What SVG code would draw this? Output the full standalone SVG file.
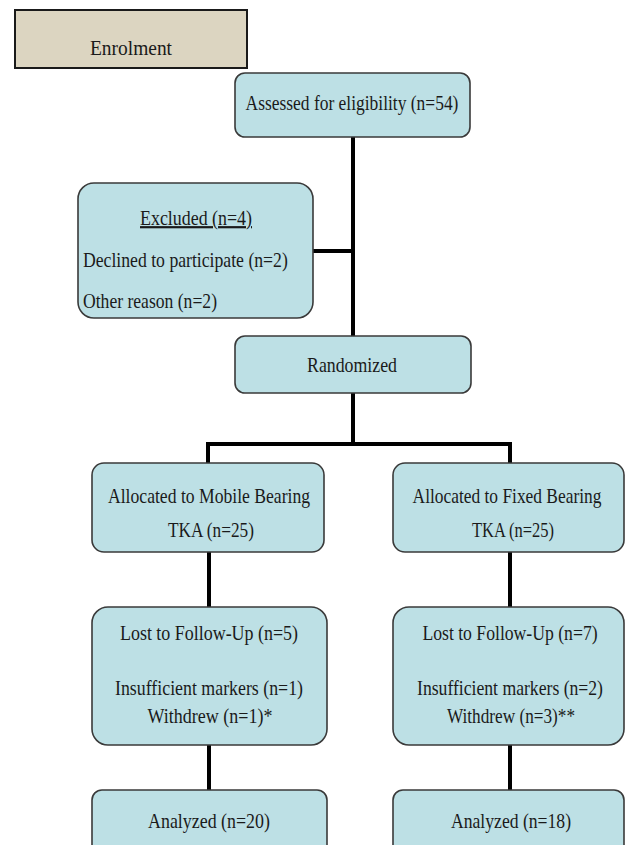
<svg xmlns="http://www.w3.org/2000/svg" width="627" height="845" viewBox="0 0 627 845">
<style>
.box{fill:#bde0e5;stroke:#3a3a3a;stroke-width:1.6}
.enr{fill:#dcd5c1;stroke:#1a1a1a;stroke-width:2}
text{font-family:'Liberation Serif','Times New Roman',serif;font-size:22px;fill:#1a1a1a}
.c{text-anchor:middle}
.conn{fill:none;stroke:#000;stroke-width:4;stroke-linejoin:miter}
</style>
<rect width="627" height="845" fill="#fff"/>
<g id="connectors">
<path class="conn" d="M353,137 V336"/>
<path class="conn" d="M313,251 H353"/>
<path class="conn" d="M353,393 V444"/>
<path class="conn" d="M208,463 V444 H510 V463"/>
<path class="conn" d="M209,552 V607"/>
<path class="conn" d="M209,745 V790"/>
<path class="conn" d="M510,552 V607"/>
<path class="conn" d="M510,745 V790"/>
</g>
<g id="enrolment">
<rect class="enr" x="15" y="10" width="232" height="58"/>
<text transform="translate(131,55) scale(0.8,1)" class="c" textLength="102.5" lengthAdjust="spacingAndGlyphs">Enrolment</text>
</g>
<g id="assessed">
<rect class="box" x="235" y="73" width="235" height="64" rx="10"/>
<text transform="translate(352,110) scale(0.8,1)" class="c" textLength="266" lengthAdjust="spacingAndGlyphs">Assessed for eligibility (n=54)</text>
</g>
<g id="excluded">
<rect class="box" x="78" y="183" width="235" height="135" rx="16"/>
<text transform="translate(196,225) scale(0.8,1)" class="c" textLength="140" lengthAdjust="spacingAndGlyphs" text-decoration="underline">Excluded (n=4)</text>
<text transform="translate(83,267) scale(0.8,1)" textLength="256" lengthAdjust="spacingAndGlyphs">Declined to participate (n=2)</text>
<text transform="translate(83,308) scale(0.8,1)" textLength="167.5" lengthAdjust="spacingAndGlyphs">Other reason (n=2)</text>
</g>
<g id="randomized">
<rect class="box" x="235" y="336" width="236" height="57" rx="10"/>
<text transform="translate(352,372) scale(0.8,1)" class="c" textLength="112.5" lengthAdjust="spacingAndGlyphs">Randomized</text>
</g>
<g id="alloc-mobile">
<rect class="box" x="92" y="463" width="232" height="89" rx="12"/>
<text transform="translate(209,503) scale(0.8,1)" class="c" textLength="252.5" lengthAdjust="spacingAndGlyphs">Allocated to Mobile Bearing</text>
<text transform="translate(211,537) scale(0.8,1)" class="c" textLength="107.5" lengthAdjust="spacingAndGlyphs">TKA (n=25)</text>
</g>
<g id="alloc-fixed">
<rect class="box" x="393" y="463" width="231" height="89" rx="12"/>
<text transform="translate(507,503) scale(0.8,1)" class="c" textLength="236" lengthAdjust="spacingAndGlyphs">Allocated to Fixed Bearing</text>
<text transform="translate(513,537) scale(0.8,1)" class="c" textLength="102.5" lengthAdjust="spacingAndGlyphs">TKA (n=25)</text>
</g>
<g id="lost-mobile">
<rect class="box" x="92" y="607" width="235" height="138" rx="16"/>
<text transform="translate(209,640) scale(0.8,1)" class="c" textLength="222.5" lengthAdjust="spacingAndGlyphs">Lost to Follow-Up (n=5)</text>
<text transform="translate(209,695) scale(0.8,1)" class="c" textLength="235" lengthAdjust="spacingAndGlyphs">Insufficient markers (n=1)</text>
<text transform="translate(210,723) scale(0.8,1)" class="c" textLength="156" lengthAdjust="spacingAndGlyphs">Withdrew (n=1)*</text>
</g>
<g id="lost-fixed">
<rect class="box" x="393" y="607" width="231" height="138" rx="16"/>
<text transform="translate(510,640) scale(0.8,1)" class="c" textLength="219" lengthAdjust="spacingAndGlyphs">Lost to Follow-Up (n=7)</text>
<text transform="translate(510,695) scale(0.8,1)" class="c" textLength="232.5" lengthAdjust="spacingAndGlyphs">Insufficient markers (n=2)</text>
<text transform="translate(511,723) scale(0.8,1)" class="c" textLength="160" lengthAdjust="spacingAndGlyphs">Withdrew (n=3)**</text>
</g>
<g id="analyzed-mobile">
<rect class="box" x="92" y="790" width="235" height="70" rx="10"/>
<text transform="translate(209,828) scale(0.8,1)" class="c" textLength="152.5" lengthAdjust="spacingAndGlyphs">Analyzed (n=20)</text>
</g>
<g id="analyzed-fixed">
<rect class="box" x="393" y="790" width="231" height="70" rx="10"/>
<text transform="translate(511,828) scale(0.8,1)" class="c" textLength="150" lengthAdjust="spacingAndGlyphs">Analyzed (n=18)</text>
</g>
</svg>
